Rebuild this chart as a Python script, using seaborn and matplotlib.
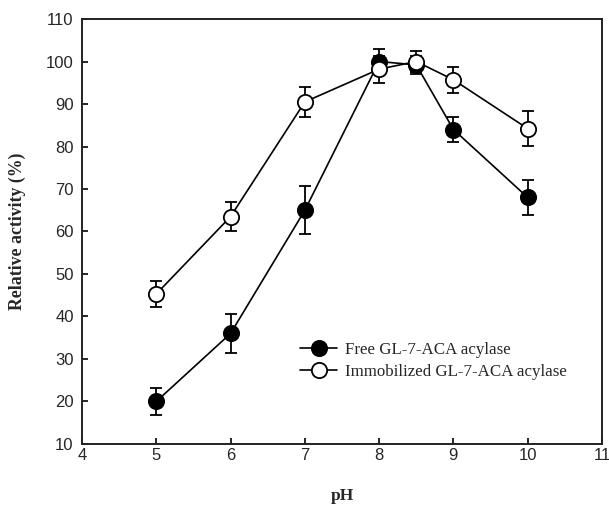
import matplotlib
matplotlib.use("Agg")
import matplotlib.pyplot as plt
import seaborn as sns
import pandas as pd

ph = [5, 6, 7, 8, 8.5, 9, 10]
free_act = [20.0, 36.0, 65.0, 100.0, 99.2, 84.0, 68.0]
free_err = [3.1, 4.6, 5.7, 3.0, 2.2, 3.0, 4.2]
immob_act = [45.3, 63.5, 90.5, 98.2, 100.0, 95.7, 84.2]
immob_err = [3.0, 3.4, 3.5, 3.2, 2.5, 3.1, 4.1]

free_df = pd.DataFrame({"pH": ph, "act": free_act, "err": free_err})
immob_df = pd.DataFrame({"pH": ph, "act": immob_act, "err": immob_err})

sns.set_style("ticks")
plt.rcParams["font.family"] = ["Liberation Sans", "DejaVu Sans"]

fig = plt.figure(figsize=(6.09, 5.07), dpi=100)
ax = fig.add_axes([0.1346, 0.1243, 0.8539, 0.8382])

for df, face, label, z in [(free_df, "black", "Free GL-7-ACA acylase", 3),
                           (immob_df, "white", "Immobilized GL-7-ACA acylase", 4)]:
    ax.errorbar(df["pH"], df["act"], yerr=df["err"], fmt="none", ecolor="black",
                elinewidth=1.3, capsize=4.3, capthick=1.3, zorder=z)
    sns.lineplot(data=df, x="pH", y="act", ax=ax, color="black", linewidth=1.2,
                 marker="o", markersize=11, markerfacecolor=face,
                 markeredgecolor="black", markeredgewidth=1.3, label=label, zorder=z)

ax.set_xlim(4, 11)
ax.set_ylim(10, 110)
ax.set_xticks(range(4, 12))
ax.set_yticks(range(10, 111, 10))
ax.tick_params(direction="in", length=4, width=1.2, labelsize=12, pad=3, color="black")
ax.tick_params(axis="y", pad=6)
for s in ax.spines.values():
    s.set_linewidth(1.4)
    s.set_color("#222222")

ax.set_xlabel("pH", fontfamily="Liberation Serif", fontweight="bold", fontsize=12.5, labelpad=18)
ax.set_ylabel("Relative activity (%)", fontfamily="Liberation Serif", fontweight="bold",
              fontsize=12.8, labelpad=14)

leg = ax.legend(loc="upper left", bbox_to_anchor=(0.39, 0.276), frameon=False,
                prop={"family": "Liberation Serif", "size": 12.2}, handlelength=2.2,
                handletextpad=0.45, labelspacing=0.35)

fig.savefig("out.png", dpi=100)
